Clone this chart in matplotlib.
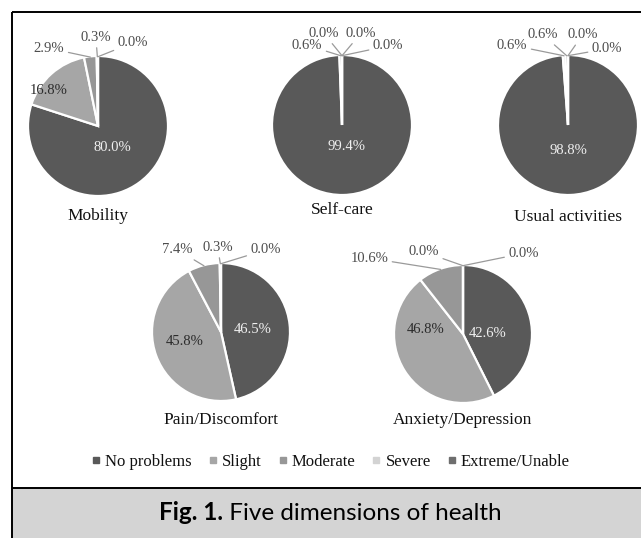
import matplotlib
matplotlib.use('Agg')
import matplotlib.pyplot as plt
import numpy as np
from matplotlib.patches import Rectangle
from matplotlib.lines import Line2D

# ---------------- data ----------------
categories = ['No problems', 'Slight', 'Moderate', 'Severe', 'Extreme/Unable']
dimensions = ['Mobility', 'Self-care', 'Usual activities', 'Pain/Discomfort', 'Anxiety/Depression']
mobility = [80.0, 16.8, 2.9, 0.3, 0.0]
self_care = [99.4, 0.6, 0.0, 0.0, 0.0]
usual_activities = [98.8, 0.6, 0.6, 0.0, 0.0]
pain_discomfort = [46.5, 45.8, 7.4, 0.3, 0.0]
anxiety_depression = [42.6, 46.8, 10.6, 0.0, 0.0]
series = [mobility, self_care, usual_activities, pain_discomfort, anxiety_depression]
caption_bold = 'Fig. 1.'
caption_rest = ' Five dimensions of health'

# ---------------- style ----------------
colors = ['#595959', '#a6a6a6', '#979797', '#d3d3d3', '#6e6e6e']
serif = 'Liberation Serif'
W, H = 641, 538

# pie layout (pixel centre, radius, title y) and label positions in radius units
layout = [
    dict(c=(98, 126), r=70, ty=216,
         lab=[(0.21, -0.31, True), (-0.71, 0.51, True), (-0.70, 1.11, False),
              (-0.03, 1.27, False), (0.50, 1.19, False)]),
    dict(c=(342, 125), r=70, ty=210,
         lab=[(0.06, -0.31, True), (-0.50, 1.14, False), (-0.26, 1.31, False),
              (0.27, 1.31, False), (0.66, 1.13, False)]),
    dict(c=(568, 125), r=70, ty=217,
         lab=[(0.0, -0.36, True), (-0.80, 1.14, False), (-0.36, 1.29, False),
              (0.21, 1.29, False), (0.56, 1.09, False)]),
    dict(c=(221, 332), r=69, ty=420,
         lab=[(0.46, 0.03, True), (-0.52, -0.14, True), (-0.63, 1.19, False),
              (-0.05, 1.23, False), (0.65, 1.19, False)]),
    dict(c=(463, 334), r=69, ty=420,
         lab=[(0.35, 0.01, True), (-0.54, 0.06, True), (-1.36, 1.10, False),
              (-0.57, 1.19, False), (0.88, 1.17, False)]),
]

fig = plt.figure(figsize=(W / 100, H / 100), dpi=100)
fig.patch.set_facecolor('white')

bg = fig.add_axes([0, 0, 1, 1])
bg.set_xlim(0, W)
bg.set_ylim(H, 0)
bg.axis('off')
bg.add_patch(Rectangle((12, 488), W, H - 488, facecolor='#d4d4d4', edgecolor='none', zorder=0))
bg.plot([12, 12], [12, H], color='black', lw=1.4, solid_capstyle='butt')
bg.plot([12, W], [12, 12], color='black', lw=1.4, solid_capstyle='butt')
bg.plot([12, W], [488, 488], color='black', lw=1.4, solid_capstyle='butt')

for vals, name, lay in zip(series, dimensions, layout):
    cx, cy = lay['c']
    r = lay['r']
    ax = fig.add_axes([(cx - r) / W, (H - (cy + r)) / H, 2 * r / W, 2 * r / H])
    ax.pie(vals, colors=colors, startangle=90, counterclock=False, radius=1,
           wedgeprops=dict(edgecolor='white', linewidth=1.6))
    ax.set_xlim(-1, 1)
    ax.set_ylim(-1, 1)
    ax.axis('off')
    cum = np.cumsum([0] + list(vals))
    for i, v in enumerate(vals):
        lx, ly, inside = lay['lab'][i]
        txt = f'{v:.1f}%'
        if inside:
            col = '#f0f0f0' if i == 0 else '#2b2b2b'
            ax.text(lx, ly, txt, ha='center', va='center', fontsize=10.5,
                    family=serif, color=col)
        else:
            t = np.deg2rad(360 * (cum[i] + v / 2) / 100)
            px, py = np.sin(t) * 0.99, np.cos(t) * 0.99
            ax.annotate(txt, xy=(px, py), xytext=(lx, ly), ha='center', va='center',
                        fontsize=10.5, family=serif, color='#4d4d4d',
                        annotation_clip=False,
                        arrowprops=dict(arrowstyle='-', color='#9a9a9a', lw=0.9,
                                        shrinkA=1, shrinkB=0))
    fig.text(cx / W, 1 - lay['ty'] / H, name, ha='center', va='center',
             fontsize=12.5, family=serif, color='#111111')

handles = [Line2D([], [], marker='s', ls='none', markersize=4, color=c) for c in colors]
fig.legend(handles, categories, loc='center', bbox_to_anchor=(331 / W, 1 - 462 / H),
           ncol=5, frameon=False, prop=dict(family=serif, size=12),
           handlelength=0.5, handletextpad=0.3, columnspacing=1.0, labelcolor='#111111')

# caption
renderer = fig.canvas.get_renderer()
cap_y = 1 - 513 / H
t1 = fig.text(0, cap_y, caption_bold, ha='left', va='center', fontsize=17.5,
              family='Lato', weight='bold', color='black')
t2 = fig.text(0, cap_y, caption_rest, ha='left', va='center', fontsize=17.5,
              family='Lato', color='black')
w1 = t1.get_window_extent(renderer).width
w2 = t2.get_window_extent(renderer).width
x0 = 330 - (w1 + w2) / 2
t1.set_x(x0 / W)
t2.set_x((x0 + w1) / W)

fig.savefig('out.png', dpi=100)
